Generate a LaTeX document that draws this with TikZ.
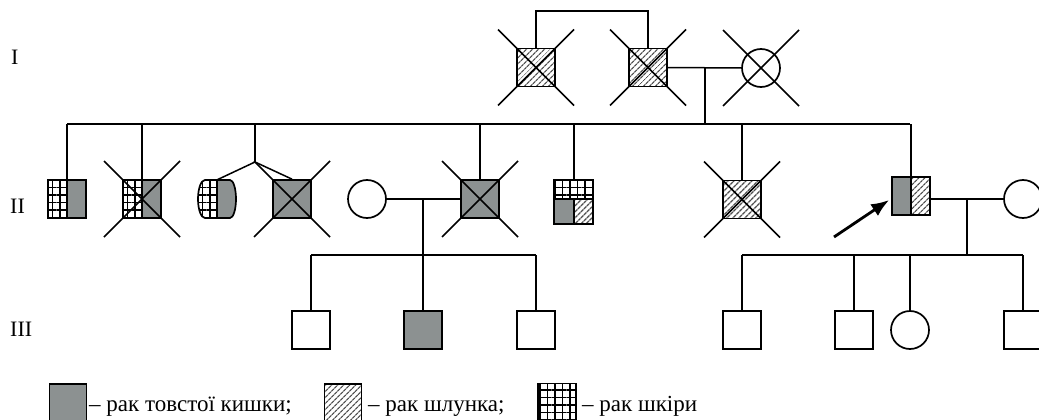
\documentclass[tikz,border=0pt]{standalone}
\usepackage{fontspec}
\setmainfont{Liberation Serif}
\usetikzlibrary{patterns.meta,arrows.meta}

\definecolor{cgray}{RGB}{140,145,145}
\definecolor{hgray}{RGB}{80,80,80}

\tikzset{
  conn/.style={draw, line width=1.5pt},
  xline/.style={draw, line width=1.5pt},
  hatchfill/.style={pattern={Lines[angle=45,distance=4pt,line width=1.4pt]}, pattern color=hgray},
  gridfill/.style={pattern={Hatch[angle=0,distance=7.5pt,line width=1.7pt]}, pattern color=black},
  person/.style={draw, line width=1.7pt, inner sep=0pt, minimum size=38pt, fill=white},
  male/.style={person, rectangle},
  female/.style={person, circle},
  colon/.style={fill=cgray},
  stomach/.style={hatchfill},
  gridgray/.style={path picture={
      \fill[gridfill] (path picture bounding box.south west) rectangle (path picture bounding box.north);
      \fill[cgray] (path picture bounding box.south) rectangle (path picture bounding box.north east);
      \draw[line width=1.6pt] (path picture bounding box.south) -- (path picture bounding box.north);}},
  grayhatch/.style={path picture={
      \fill[cgray] (path picture bounding box.south west) rectangle (path picture bounding box.north);
      \fill[hatchfill] (path picture bounding box.south) rectangle (path picture bounding box.north east);
      \draw[line width=1.6pt] (path picture bounding box.south) -- (path picture bounding box.north);}},
  triple/.style={path picture={
      \fill[gridfill] ([yshift=-19pt]path picture bounding box.north west) rectangle (path picture bounding box.north east);
      \fill[cgray] ([yshift=-19pt]path picture bounding box.north west) rectangle (path picture bounding box.south);
      \fill[hatchfill] ([yshift=-19pt]path picture bounding box.north) rectangle (path picture bounding box.south east);
      \draw[line width=1.6pt] ([yshift=-19pt]path picture bounding box.north west) -- ([yshift=-19pt]path picture bounding box.north east)
        ([yshift=-19pt]path picture bounding box.north) -- (path picture bounding box.south);}},
  gen/.style={font=\fontsize{22pt}{26pt}\selectfont, inner sep=0pt, anchor=base west},
  legtext/.style={font=\fontsize{23pt}{27pt}\selectfont, inner sep=0pt, anchor=base west},
}

% cross over a deceased individual
\newcommand\deceased[1]{%
  \draw[xline] ([shift={(-38,-38)}]#1.center) -- ([shift={(38,38)}]#1.center)
               ([shift={(-38,38)}]#1.center) -- ([shift={(38,-38)}]#1.center);}

\begin{document}
\begin{tikzpicture}[x=1pt,y=-1pt]
\useasboundingbox (0,0) rectangle (1039,420);

% generation labels
\node[gen] (gI)   at (11,65)  {I};
\node[gen] (gII)  at (10,213) {II};
\node[gen] (gIII) at (10,336) {III};

% ---------- generation I ----------
\node[male, stomach] (i1) at (536,67.5) {};
\node[male, stomach] (i2) at (648,67.5) {};
\node[female]        (i3) at (761,68) {};
\deceased{i1}\deceased{i2}\deceased{i3}
\draw[conn] (i1.north) -- ++(0,-37) -| (i2.north);
\draw[conn] (i2.east) -- (i3.west);
\coordinate (m1) at (705,68);

% sibship of generation II
\coordinate (s0) at (67,124);
\coordinate (s1) at (910,124);
\draw[conn] (s0) -- (s1);
\draw[conn] (m1) -- (m1 |- s0);

% ---------- generation II ----------
\node[male, gridgray]  (ii1) at (67,199) {};
\node[male, gridgray]  (ii2) at (142,199) {};
\deceased{ii2}
% twins
\coordinate (tw) at (255,162);
\coordinate (twa) at (216.7,180);
\begin{scope}
  \path[clip] (205,180) -- (230,180) arc[start angle=-90,end angle=90,x radius=6,y radius=19]
              -- (205,218) arc[start angle=90,end angle=270,x radius=7,y radius=19] -- cycle;
  \fill[gridfill] (190,170) rectangle (216.7,230);
  \fill[cgray] (216.7,170) rectangle (245,230);
\end{scope}
\draw[line width=1.7pt] (205,180) -- (230,180) arc[start angle=-90,end angle=90,x radius=6,y radius=19]
              -- (205,218) arc[start angle=90,end angle=270,x radius=7,y radius=19] -- cycle;
\draw[line width=1.6pt] (twa) -- (216.7,218);
\node[male, colon]     (ii4) at (292,199) {};
\deceased{ii4}
\draw[conn] (tw) -- (twa);
\draw[conn] (tw) -- (ii4.north);

\node[female]          (ii5) at (367,199) {};
\node[male, colon]     (ii6) at (480,199) {};
\deceased{ii6}
\node[male, triple, minimum width=39pt, minimum height=44pt] (ii7) at (573.8,202) {};
\node[male, stomach]   (ii8) at (742,199.5) {};
\deceased{ii8}
\node[male, grayhatch] (ii9) at (911,196) {};
\node[female]          (ii10) at (1023,199) {};

\foreach \n in {ii1,ii2,ii6,ii7,ii8,ii9}
  \draw[conn] (\n.north) -- (\n.north |- s0);
\draw[conn] (tw) -- (tw |- s0);

% proband arrow
\coordinate (pa) at (834,237);
\draw[line width=2.8pt, -{Latex[length=18pt,width=14pt]}] (pa) -- ([shift={(-2,4)}]ii9.west);

% couples of generation II
\draw[conn] (ii5.east) -- (ii6.west);
\coordinate (m2) at (423,199);
\draw[conn] (ii9.east |- ii10.west) -- (ii10.west);
\coordinate (m3) at (967,199);

% ---------- generation III ----------
\coordinate (t0) at (311,255);
\coordinate (t1) at (536,255);
\coordinate (t2) at (742,255);
\coordinate (t3) at (1023,255);
\draw[conn] (t0) -- (t1);
\draw[conn] (t2) -- (t3);
\draw[conn] (m2) -- (m2 |- t0);
\draw[conn] (m3) -- (m3 |- t2);

\node[male]        (iii1) at (311,330) {};
\node[male, colon] (iii2) at (423,330) {};
\node[male]        (iii3) at (536,330) {};
\node[male]        (iii4) at (742,330) {};
\node[male]        (iii5) at (854,330) {};
\node[female]      (iii6) at (910,330) {};
\node[male]        (iii7) at (1023,330) {};
\foreach \n in {iii1,iii2,iii3}
  \draw[conn] (\n.north) -- (\n.north |- t0);
\foreach \n in {iii4,iii5,iii6,iii7}
  \draw[conn] (\n.north) -- (\n.north |- t2);

% ---------- legend ----------
\node[male, colon, minimum size=37pt]   (lg1) at (68,402.5) {};
\node[legtext] (lt1) at (89,411) {– рак товстої кишки;};
\node[male, stomach, minimum size=37pt] (lg2) at (343,402.5) {};
\node[legtext] (lt2) at (368,411) {– рак шлунка;};
\node[male, fill=none, gridfill, minimum size=38pt] (lg3) at (557,402.5) {};
\node[legtext] (lt3) at (582,411) {– рак шкіри};
\end{tikzpicture}
\end{document}
